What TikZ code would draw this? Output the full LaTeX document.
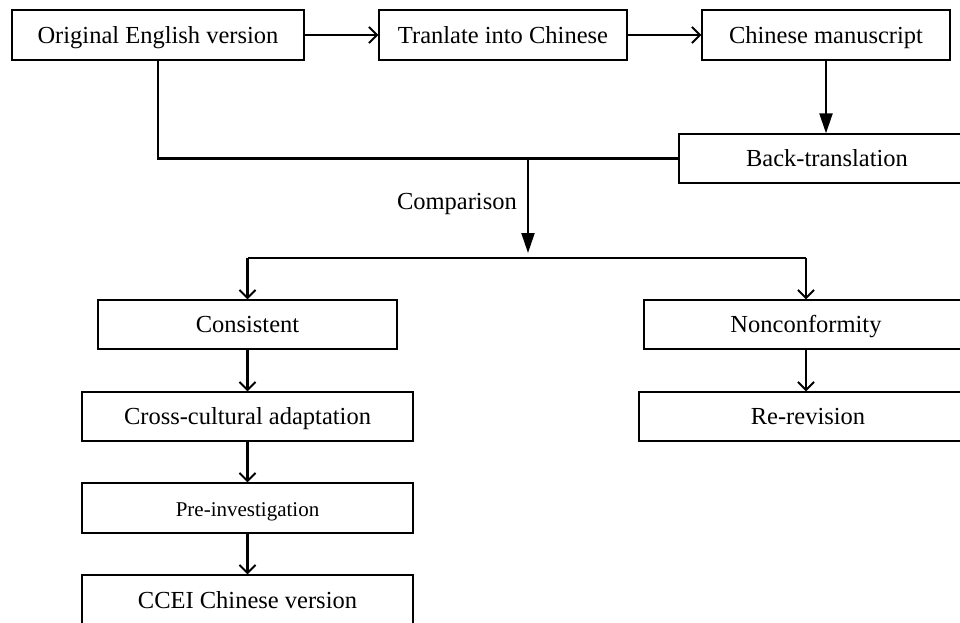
\documentclass[tikz,border=0pt]{standalone}
\usepackage{fontspec}
\setmainfont{Liberation Serif}
\usetikzlibrary{arrows.meta}
\begin{document}
\begin{tikzpicture}[x=1pt,y=-1pt,
  box/.style={draw, line width=1.3pt, inner sep=0pt, text height=18pt, text depth=2pt, font=\fontsize{24.5}{29}\selectfont},
  smallbox/.style={box, font=\fontsize{21}{25}\selectfont},
  conn/.style={line width=2.2pt},
  barb/.style={conn, -{Straight Barb[length=8pt,width=16pt,line width=2pt]}},
  tri/.style={conn, -{Triangle[length=20pt,width=13pt]}},
  lbl/.style={font=\fontsize{24.5}{29}\selectfont, inner sep=0pt}]
\clip (0,0) rectangle (960,622);
\fill[white] (0,0) rectangle (960,622);
\node[box, minimum width=292pt, minimum height=50pt] (orig) at (158,35) {Original English version};
\node[box, minimum width=248pt, minimum height=50pt] (trans) at (503,35) {Tranlate into Chinese};
\node[box, minimum width=248pt, minimum height=50pt] (manu) at (826,35) {Chinese manuscript};
\node[box, minimum width=296pt, minimum height=49pt] (back) at (827,158.5) {Back-translation};
\node[box, minimum width=299pt, minimum height=49pt] (cons) at (247.5,324.5) {Consistent};
\node[box, minimum width=324pt, minimum height=49pt] (nonc) at (806,324.5) {Nonconformity};
\node[box, minimum width=338pt, minimum height=49pt] (rerev) at (808,416.5) {Re-revision};
\node[box, minimum width=331pt, minimum height=49pt] (cross) at (247.5,416.5) {Cross-cultural adaptation};
\node[smallbox, minimum width=331pt, minimum height=50pt] (pre) at (247.5,508) {Pre-investigation};
\node[box, minimum width=331pt, minimum height=50pt] (ccei) at (247.5,600) {CCEI Chinese version};
\node[lbl, anchor=east] (cmp) at (517,204) {Comparison};
\coordinate (j1) at (528,158.5);
\coordinate (j2) at (528,253);
\coordinate (br) at (528,258);
\draw[barb] (orig.east) -- (trans.west);
\draw[barb] (trans.east) -- (manu.west);
\draw[tri] (manu.south) -- (manu.south |- back.north);
\draw[conn] (orig.south) |- (back.west);
\draw[tri] (j1) -- (j2);
\draw[conn] (cons.north |- br) -- (nonc.north |- br);
\draw[barb] (cons.north |- br) -- (cons.north);
\draw[barb] (nonc.north |- br) -- (nonc.north);
\draw[barb] (cons.south) -- (cross.north);
\draw[barb] (nonc.south) -- (nonc.south |- rerev.north);
\draw[barb] (cross.south) -- (pre.north);
\draw[barb] (pre.south) -- (ccei.north);
\end{tikzpicture}
\end{document}
